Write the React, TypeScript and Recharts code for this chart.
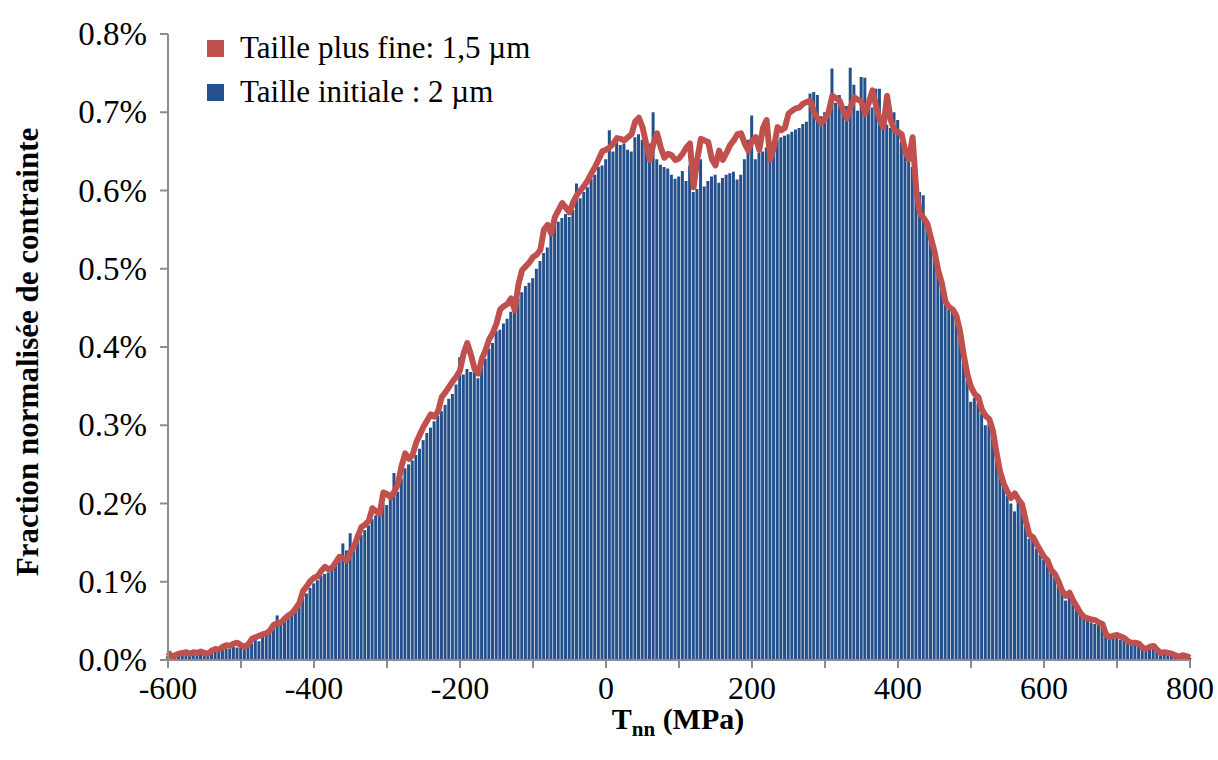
import { ComposedChart, Bar, Line, XAxis, YAxis, Legend } from 'recharts'

// histogram bins: 5 MPa wide, from -600 to 800 MPa
const binStart = -600
const binWidth = 5

// Taille plus fine: 1,5 µm  (fraction in %)
const fineSize = [
  0.010, 0.004, 0.006, 0.008, 0.009, 0.010, 0.008, 0.010, 0.009, 0.011, // -600
  0.009, 0.008, 0.012, 0.014, 0.013, 0.017, 0.019, 0.018, 0.021, 0.022, // -550
  0.019, 0.017, 0.020, 0.027, 0.029, 0.031, 0.033, 0.034, 0.038, 0.045, // -500
  0.047, 0.048, 0.053, 0.057, 0.060, 0.066, 0.073, 0.088, 0.094, 0.101, // -450
  0.105, 0.107, 0.114, 0.119, 0.116, 0.118, 0.125, 0.132, 0.130, 0.127, // -400
  0.138, 0.145, 0.158, 0.170, 0.173, 0.178, 0.194, 0.190, 0.187, 0.214, // -350
  0.212, 0.208, 0.215, 0.225, 0.248, 0.264, 0.257, 0.262, 0.278, 0.288, // -300
  0.298, 0.306, 0.314, 0.311, 0.318, 0.336, 0.342, 0.349, 0.356, 0.362, // -250
  0.370, 0.392, 0.405, 0.390, 0.372, 0.366, 0.385, 0.396, 0.410, 0.418, // -200
  0.430, 0.448, 0.452, 0.455, 0.462, 0.447, 0.480, 0.498, 0.503, 0.508, // -150
  0.515, 0.518, 0.524, 0.550, 0.556, 0.545, 0.566, 0.575, 0.584, 0.578, // -100
  0.572, 0.585, 0.594, 0.600, 0.606, 0.613, 0.622, 0.630, 0.640, 0.650, // -50
  0.652, 0.655, 0.660, 0.667, 0.666, 0.664, 0.668, 0.672, 0.688, 0.693, // 0
  0.681, 0.660, 0.639, 0.660, 0.673, 0.655, 0.642, 0.647, 0.645, 0.639, // 50
  0.641, 0.647, 0.655, 0.660, 0.604, 0.640, 0.666, 0.664, 0.662, 0.640, // 100
  0.632, 0.651, 0.639, 0.648, 0.658, 0.664, 0.672, 0.673, 0.660, 0.651, // 150
  0.664, 0.668, 0.652, 0.680, 0.690, 0.640, 0.655, 0.681, 0.677, 0.680, // 200
  0.698, 0.702, 0.705, 0.706, 0.711, 0.713, 0.715, 0.700, 0.692, 0.686, // 250
  0.692, 0.700, 0.721, 0.718, 0.715, 0.702, 0.692, 0.706, 0.719, 0.716, // 300
  0.714, 0.698, 0.712, 0.728, 0.708, 0.690, 0.681, 0.721, 0.690, 0.677, // 350
  0.675, 0.672, 0.650, 0.640, 0.668, 0.600, 0.571, 0.565, 0.558, 0.540, // 400
  0.522, 0.498, 0.482, 0.458, 0.451, 0.448, 0.440, 0.420, 0.390, 0.365, // 450
  0.349, 0.340, 0.336, 0.320, 0.312, 0.308, 0.293, 0.265, 0.240, 0.225, // 500
  0.215, 0.207, 0.213, 0.205, 0.199, 0.178, 0.160, 0.157, 0.148, 0.140, // 550
  0.132, 0.127, 0.115, 0.110, 0.100, 0.088, 0.082, 0.086, 0.076, 0.068, // 600
  0.060, 0.055, 0.053, 0.052, 0.051, 0.048, 0.046, 0.033, 0.029, 0.031, // 650
  0.032, 0.030, 0.028, 0.024, 0.022, 0.022, 0.021, 0.016, 0.014, 0.017, // 700
  0.018, 0.013, 0.009, 0.010, 0.009, 0.008, 0.006, 0.004, 0.006, 0.005, // 750
  0.003, // 800
]

// Taille initiale : 2 µm  (fraction in %)
const initialSize = [
  0.005, 0.004, 0.006, 0.005, 0.007, 0.006, 0.008, 0.007, 0.006, 0.009, // -600
  0.008, 0.010, 0.009, 0.012, 0.011, 0.013, 0.015, 0.014, 0.017, 0.016, // -550
  0.019, 0.018, 0.022, 0.021, 0.026, 0.024, 0.030, 0.032, 0.035, 0.040, // -500
  0.057, 0.045, 0.050, 0.053, 0.062, 0.064, 0.070, 0.078, 0.085, 0.092, // -450
  0.098, 0.102, 0.108, 0.110, 0.112, 0.118, 0.122, 0.128, 0.149, 0.140, // -400
  0.162, 0.140, 0.150, 0.160, 0.166, 0.172, 0.180, 0.185, 0.190, 0.200, // -350
  0.198, 0.205, 0.239, 0.215, 0.232, 0.245, 0.250, 0.255, 0.262, 0.270, // -300
  0.281, 0.290, 0.297, 0.305, 0.312, 0.318, 0.326, 0.334, 0.340, 0.352, // -250
  0.387, 0.365, 0.372, 0.368, 0.376, 0.360, 0.378, 0.385, 0.398, 0.405, // -200
  0.420, 0.422, 0.430, 0.436, 0.445, 0.452, 0.462, 0.470, 0.478, 0.482, // -150
  0.488, 0.500, 0.510, 0.520, 0.527, 0.548, 0.556, 0.560, 0.565, 0.570, // -100
  0.566, 0.575, 0.609, 0.590, 0.598, 0.604, 0.615, 0.620, 0.630, 0.632, // -50
  0.640, 0.677, 0.650, 0.662, 0.658, 0.660, 0.652, 0.650, 0.668, 0.672, // 0
  0.665, 0.655, 0.660, 0.700, 0.640, 0.633, 0.630, 0.628, 0.620, 0.615, // 50
  0.618, 0.625, 0.612, 0.632, 0.598, 0.602, 0.640, 0.605, 0.612, 0.618, // 100
  0.620, 0.610, 0.616, 0.620, 0.622, 0.624, 0.614, 0.620, 0.640, 0.665, // 150
  0.696, 0.640, 0.648, 0.650, 0.655, 0.660, 0.662, 0.665, 0.668, 0.670, // 200
  0.672, 0.675, 0.678, 0.680, 0.685, 0.688, 0.724, 0.726, 0.722, 0.695, // 250
  0.700, 0.705, 0.756, 0.712, 0.722, 0.700, 0.708, 0.757, 0.735, 0.702, // 300
  0.745, 0.744, 0.712, 0.706, 0.730, 0.730, 0.690, 0.684, 0.680, 0.700, // 350
  0.690, 0.662, 0.650, 0.648, 0.630, 0.610, 0.598, 0.594, 0.555, 0.535, // 400
  0.515, 0.494, 0.478, 0.455, 0.448, 0.445, 0.440, 0.410, 0.385, 0.358, // 450
  0.330, 0.335, 0.328, 0.315, 0.300, 0.302, 0.288, 0.260, 0.244, 0.222, // 500
  0.210, 0.200, 0.190, 0.205, 0.195, 0.170, 0.155, 0.154, 0.142, 0.135, // 550
  0.128, 0.125, 0.112, 0.105, 0.095, 0.085, 0.076, 0.084, 0.073, 0.066, // 600
  0.058, 0.053, 0.050, 0.048, 0.046, 0.045, 0.042, 0.032, 0.030, 0.028, // 650
  0.028, 0.026, 0.025, 0.022, 0.020, 0.020, 0.018, 0.015, 0.013, 0.015, // 700
  0.014, 0.012, 0.010, 0.009, 0.008, 0.007, 0.006, 0.005, 0.005, 0.004, // 750
  0.003, // 800
]

const xTicks = [-600, -500, -400, -300, -200, -100, 0, 100, 200, 300, 400, 500, 600, 700, 800]
const xLabelStep = 200
const yTicks = [0, 0.1, 0.2, 0.3, 0.4, 0.5, 0.6, 0.7, 0.8]

const legendItems = [
  { label: 'Taille plus fine: 1,5 µm', color: '#C0504D' },
  { label: 'Taille initiale : 2 µm', color: '#24508C' },
]

const data = initialSize.map((v, i) => ({
  t: binStart + i * binWidth,
  initial: v,
  fine: fineSize[i],
}))

const FONT = "'Liberation Serif', 'Times New Roman', serif"
const AXIS_GREY = '#8C8C8C'
const textStyle = { fontFamily: FONT }

const XTick = ({ x, y, payload }: any) => {
  if (payload.value % xLabelStep !== 0) return <g />
  return (
    <text x={x} y={y + 29} textAnchor="middle" style={textStyle} fontSize={32} fill="#000">
      {payload.value}
    </text>
  )
}

const YTick = ({ x, y, payload }: any) => (
  <text x={x} y={y + 11} textAnchor="end" style={textStyle} fontSize={33} fill="#000">
    {payload.value.toFixed(1)}%
  </text>
)

const YTitle = () => (
  <text
    x={38}
    y={352}
    transform="rotate(-90, 38, 352)"
    textAnchor="middle"
    style={textStyle}
    fontWeight="bold"
    fontSize={31}
    fill="#000"
  >
    Fraction normalisée de contrainte
  </text>
)

const XTitle = () => (
  <text x={678} y={729} textAnchor="middle" style={textStyle} fontWeight="bold" fontSize={30} fill="#000">
    <tspan>T</tspan>
    <tspan fontSize={21} dy={7}>nn</tspan>
    <tspan dy={-7}> (MPa)</tspan>
  </text>
)

const LegendBox = () => (
  <svg width={360} height={100} style={{ display: 'block' }}>
    {legendItems.map((item, i) => (
      <g key={item.label}>
        <rect x={0} y={25 + i * 44} width={17} height={17} fill={item.color} />
        <text x={33} y={43 + i * 44} style={textStyle} fontSize={31} fill="#000">
          {item.label}
        </text>
      </g>
    ))}
  </svg>
)

export default function App() {
  return (
    <div
      style={{
        position: 'absolute',
        left: 0,
        top: 0,
        width: 1218,
        height: 760,
        background: '#fff',
        fontFamily: FONT,
      }}
    >
      <ComposedChart
        width={1218}
        height={760}
        data={data}
        margin={{ top: 34, right: 28, bottom: 0, left: 0 }}
      >
        <XAxis
          dataKey="t"
          type="number"
          domain={[-600, 800]}
          ticks={xTicks}
          interval={0}
          height={100}
          tick={<XTick />}
          tickSize={8}
          tickLine={{ stroke: AXIS_GREY, strokeWidth: 2 }}
          axisLine={{ stroke: AXIS_GREY, strokeWidth: 2 }}
          label={XTitle}
        />
        <YAxis
          type="number"
          domain={[0, 0.8]}
          ticks={yTicks}
          interval={0}
          width={168}
          tick={<YTick />}
          tickSize={8}
          tickMargin={13}
          tickLine={{ stroke: AXIS_GREY, strokeWidth: 2 }}
          axisLine={{ stroke: AXIS_GREY, strokeWidth: 2 }}
          label={YTitle}
        />
        <Bar dataKey="initial" fill="#24508C" barSize={3} isAnimationActive={false} />
        <Line
          dataKey="fine"
          type="linear"
          stroke="#C0504D"
          strokeWidth={6}
          strokeLinejoin="round"
          dot={false}
          activeDot={false}
          isAnimationActive={false}
        />
        <Legend
          layout="horizontal"
          align="center"
          verticalAlign="middle"
          wrapperStyle={{ left: 207, top: 15, width: 360 }}
          content={<LegendBox />}
        />
      </ComposedChart>
    </div>
  )
}
